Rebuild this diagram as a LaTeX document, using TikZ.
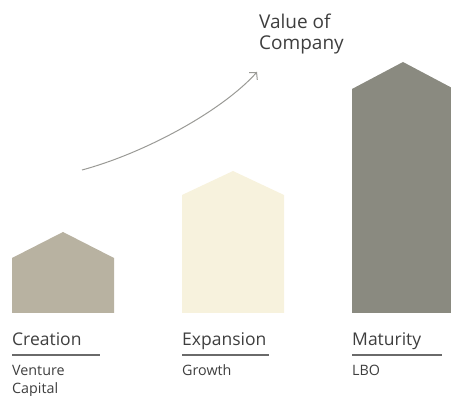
\documentclass[tikz,border=0pt]{standalone}
\usepackage{fontspec}
\setmainfont{Open Sans}
\usetikzlibrary{arrows.meta}
\definecolor{cA}{HTML}{B8B2A1}
\definecolor{cB}{HTML}{F7F2DD}
\definecolor{cC}{HTML}{8A8A80}
\definecolor{txt}{HTML}{3E3E3E}
\definecolor{rule}{HTML}{6A6A6A}
\definecolor{arr}{HTML}{9A9A96}
\tikzset{
  stage/.style={font=\fontsize{17.5}{20}\selectfont, text=txt, anchor=base west, inner sep=0pt},
  sub/.style={font=\fontsize{14.3}{18}\selectfont, text=txt, anchor=base west, inner sep=0pt, align=left},
  top/.style={font=\fontsize{19}{21}\selectfont, text=txt, anchor=base west, inner sep=0pt, align=left},
  uline/.style={draw=rule, line width=1.3pt},
}
\begin{document}
\begin{tikzpicture}[x=1pt,y=1pt]
\useasboundingbox (0,0) rectangle (451,396);
\begin{scope}
\clip (0,0) rectangle (451,396);
% houses
\fill[cA] (12,83) -- (12,138) -- (63,164) -- (114,138) -- (114,83) -- cycle;
\fill[cB] (182,83) -- (182,201) -- (233,225) -- (284,201) -- (284,83) -- cycle;
\fill[cC] (352,83) -- (352,307) -- (403,334) -- (454,307) -- (454,83) -- cycle;
\end{scope}
% labels
\node[stage] (creation) at (12,50) {Creation};
\node[stage] (expansion) at (182,50) {Expansion};
\node[stage] (maturity) at (352,50) {Maturity};
\coordinate (l1a) at (12,41); \coordinate (l1b) at (100,41);
\coordinate (l2a) at (182,41); \coordinate (l2b) at (269,41);
\coordinate (l3a) at (352,41); \coordinate (l3b) at (442,41);
\draw[uline] (l1a) -- (l1b);
\draw[uline] (l2a) -- (l2b);
\draw[uline] (l3a) -- (l3b);
\node[sub] (vc) at (12,2.5) {Venture\\Capital};
\node[sub] (growth) at (182,20.5) {Growth};
\node[sub] (lbo) at (352,20.5) {LBO};
\node[top] (value) at (259,346) {Value of\\Company};
% arrow
\coordinate (as) at (82,226);
\coordinate (ae) at (257,324);
\draw[arr, line width=1pt, -{Straight Barb[length=5pt,width=11pt]}] (as) .. controls (145,243) and (222,285) .. (ae);
\end{tikzpicture}
\end{document}
